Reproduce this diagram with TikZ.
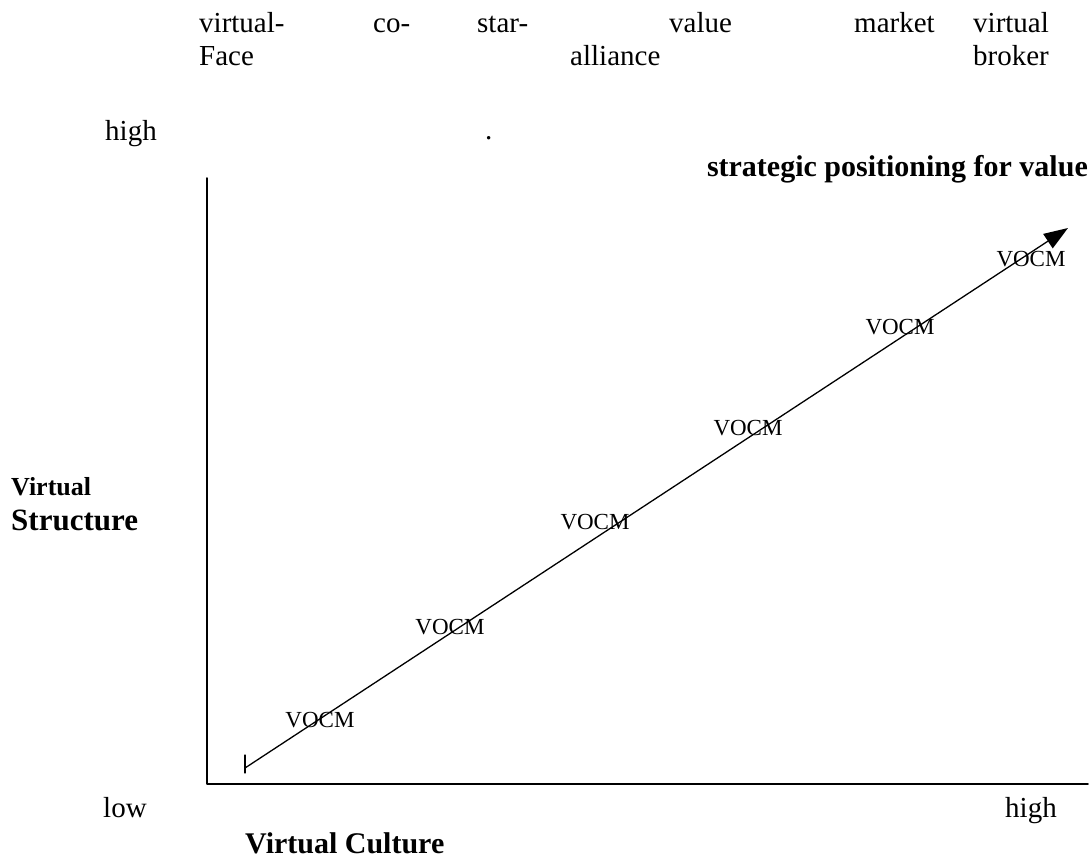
\documentclass[tikz,border=0pt]{standalone}
\usepackage{fontspec}
\setmainfont{Liberation Serif}
\usetikzlibrary{arrows.meta,calc}
\tikzset{
  toplbl/.style={anchor=base west,inner sep=0pt,font=\fontsize{29}{31}\selectfont},
  axlbl/.style={anchor=base west,inner sep=0pt,font=\bfseries\fontsize{30}{32}\selectfont},
  vocm/.style={inner sep=0pt,font=\fontsize{23}{25}\selectfont}
}
\begin{document}
\begin{tikzpicture}[x=1pt,y=-1pt,line cap=round,line join=round]
  \useasboundingbox (0,0) rectangle (1090,861);
  \coordinate (O) at (207,784);\coordinate (Ytop) at (207,178);\coordinate (Xend) at (1088,784);
  \coordinate (S) at (245,768);\coordinate (T) at (1068,228);
  % axes
  \draw[line width=1.5pt] (Ytop)--(O)--(Xend);
  \draw[line width=2.6pt,line cap=butt] (207,728)--(207,765);
  % arrow of positioning
  \draw[line width=1.3pt,-{Triangle[length=24pt,width=17pt]}] (S)--(T);
  \draw[line width=1.3pt] ($(S)+(0,-13)$)--($(S)+(0,5)$);
  \foreach \x/\y in {320/720,450/627,595/522,748/428,900/327,1031/259}{\node[vocm] at (\x,\y) {VOCM};}
  % top labels
  \node[toplbl] (vf1) at (199,33) {virtual-};\node[toplbl] (vf2) at (199,66) {Face};
  \node[toplbl] (co) at (373,33) {co-};
  \node[toplbl] (sa1) at (477,33) {star-};\node[toplbl] (sa2) at (570,66) {alliance};
  \node[toplbl] (val) at (669,33) {value};
  \node[toplbl] (mkt) at (854,33) {market};
  \node[toplbl] (vb1) at (973,33) {virtual};\node[toplbl] (vb2) at (973,66) {broker};
  % axis labels
  \node[toplbl] (yhigh) at (105,141) {high};
  \node[toplbl] (dot) at (485,140) {.};
  \node[axlbl,anchor=base east] (strat) at (1088,177) {strategic positioning for value};
  \node[axlbl,font=\bfseries\fontsize{26}{28}\selectfont] (vs1) at (11,495) {Virtual};
  \node[axlbl,font=\bfseries\fontsize{31}{33}\selectfont] (vs2) at (11,530) {Structure};
  \node[toplbl] (low) at (103,817) {low};
  \node[toplbl] (xhigh) at (1005,817) {high};
  \node[axlbl] (vc) at (245,853) {Virtual Culture};
\end{tikzpicture}
\end{document}
